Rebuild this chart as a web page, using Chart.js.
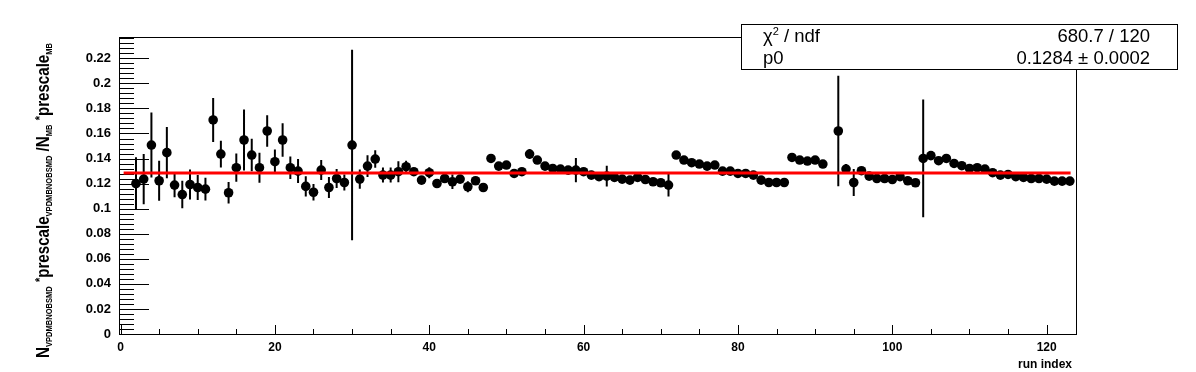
<!DOCTYPE html>
<html>
<head>
<meta charset="utf-8">
<script src="https://cdn.jsdelivr.net/npm/chart.js@4.4.1/dist/chart.umd.min.js"></script>
<style>
  html, body { margin: 0; padding: 0; background: #fff; }
  canvas { display: block; }
</style>
</head>
<body>
<canvas id="ratio-plot" width="1196" height="372"></canvas>
<script>
// run index -> ratio with its error bar (run 92 has no entry)
const runIndex = [
  2, 3, 4, 5, 6, 7, 8, 9, 10, 11, 12, 13, 14, 15, 16, 17, 18, 19, 20, 21,
  22, 23, 24, 25, 26, 27, 28, 29, 30, 31, 32, 33, 34, 35, 36, 37, 38, 39, 40, 41,
  42, 43, 44, 45, 46, 47, 48, 49, 50, 51, 52, 53, 54, 55, 56, 57, 58, 59, 60, 61,
  62, 63, 64, 65, 66, 67, 68, 69, 70, 71, 72, 73, 74, 75, 76, 77, 78, 79, 80, 81,
  82, 83, 84, 85, 86, 87, 88, 89, 90, 91, 93, 94, 95, 96, 97, 98, 99, 100, 101, 102,
  103, 104, 105, 106, 107, 108, 109, 110, 111, 112, 113, 114, 115, 116, 117, 118, 119, 120, 121, 122,
  123
];
const ratio = [
  0.1201, 0.1236, 0.1508, 0.1223, 0.1447, 0.1188, 0.1113, 0.1193, 0.1169, 0.1156,
  0.1708, 0.1436, 0.1127, 0.1327, 0.1548, 0.1428, 0.1327, 0.1620, 0.1375, 0.1548,
  0.1327, 0.1300, 0.1178, 0.1131, 0.1308, 0.1169, 0.1241, 0.1209, 0.1508, 0.1236,
  0.1340, 0.1396, 0.1268, 0.1268, 0.1295, 0.1335, 0.1295, 0.1228, 0.1287, 0.1201,
  0.1241, 0.1215, 0.1236, 0.1175, 0.1223, 0.1169, 0.1401, 0.1340, 0.1348, 0.1281,
  0.1295, 0.1436, 0.1388, 0.1340, 0.1321, 0.1316, 0.1308, 0.1308, 0.1295, 0.1268,
  0.1255, 0.1260, 0.1249, 0.1236, 0.1228, 0.1249, 0.1233, 0.1215, 0.1207, 0.1188,
  0.1428, 0.1388, 0.1367, 0.1356, 0.1340, 0.1348, 0.1300, 0.1300, 0.1281, 0.1281,
  0.1268, 0.1228, 0.1209, 0.1209, 0.1209, 0.1409, 0.1388, 0.1380, 0.1388, 0.1356,
  0.1620, 0.1316, 0.1209, 0.1303, 0.1260, 0.1241, 0.1241, 0.1233, 0.1255, 0.1223,
  0.1207, 0.1401, 0.1423, 0.1383, 0.1401, 0.1361, 0.1343, 0.1321, 0.1327, 0.1316,
  0.1287, 0.1268, 0.1273, 0.1255, 0.1249, 0.1241, 0.1241, 0.1236, 0.1220, 0.1220,
  0.1220
];
const ratioErr = [
  0.0210, 0.0200, 0.0260, 0.0160, 0.0205, 0.0097, 0.0110, 0.0120, 0.0100, 0.0090,
  0.0175, 0.0107, 0.0085, 0.0113, 0.0243, 0.0130, 0.0120, 0.0125, 0.0097, 0.0133,
  0.0090, 0.0096, 0.0080, 0.0065, 0.0080, 0.0083, 0.0076, 0.0063, 0.0760, 0.0077,
  0.0087, 0.0070, 0.0060, 0.0060, 0.0084, 0.0048, 0.0030, 0.0020, 0.0044, 0.0020,
  0.0030, 0.0057, 0.0030, 0.0044, 0.0020, 0.0020, 0.0020, 0.0030, 0.0020, 0.0020,
  0.0020, 0.0040, 0.0020, 0.0020, 0.0020, 0.0020, 0.0020, 0.0097, 0.0020, 0.0020,
  0.0020, 0.0083, 0.0020, 0.0020, 0.0020, 0.0020, 0.0020, 0.0020, 0.0020, 0.0090,
  0.0020, 0.0020, 0.0020, 0.0020, 0.0020, 0.0020, 0.0020, 0.0020, 0.0020, 0.0020,
  0.0020, 0.0020, 0.0020, 0.0020, 0.0020, 0.0020, 0.0020, 0.0020, 0.0020, 0.0020,
  0.0440, 0.0040, 0.0107, 0.0020, 0.0020, 0.0020, 0.0020, 0.0020, 0.0020, 0.0020,
  0.0020, 0.0470, 0.0020, 0.0020, 0.0020, 0.0020, 0.0020, 0.0020, 0.0020, 0.0020,
  0.0020, 0.0020, 0.0020, 0.0020, 0.0020, 0.0020, 0.0020, 0.0020, 0.0020, 0.0020,
  0.0020
];

// constant fit p0 and the range it is drawn over
const fitValue = 0.1284;
const fitRange = [0.4, 123.1];
const statsRows = [
  ['χ2 / ndf', '680.7 / 120'],
  ['p0', '0.1284 \u00b1 0.0002']
];

const FONT = '"Liberation Sans", Arial, Helvetica, sans-serif';

// ROOT style frame with inside tick marks
const framePlugin = {
  id: 'rootFrame',
  beforeDatasetsDraw(chart) {
    const { ctx, chartArea: a, scales: { x, y } } = chart;
    ctx.save();
    ctx.strokeStyle = '#000';
    ctx.lineWidth = 1;
    ctx.strokeRect(a.left + 0.5, a.top + 0.5, a.right - a.left, a.bottom - a.top);

    ctx.beginPath();
    for (let i = 0; i <= 59; i++) {
      const v = i * 0.004;
      if (v > y.max) break;
      const py = Math.round(y.getPixelForValue(v)) + 0.5;
      const len = i % 5 === 0 ? 30 : 15;
      ctx.moveTo(a.left, py);
      ctx.lineTo(a.left + len, py);
    }
    for (let v = 0; v <= 120; v += 5) {
      const px = Math.round(x.getPixelForValue(v)) + 0.5;
      const len = v % 20 === 0 ? 9 : 5;
      ctx.moveTo(px, a.bottom);
      ctx.lineTo(px, a.bottom - len);
    }
    ctx.stroke();

    // error bars
    ctx.lineWidth = 2;
    ctx.beginPath();
    runIndex.forEach((r, i) => {
      const px = x.getPixelForValue(r);
      ctx.moveTo(px, y.getPixelForValue(ratio[i] - ratioErr[i]));
      ctx.lineTo(px, y.getPixelForValue(ratio[i] + ratioErr[i]));
    });
    ctx.stroke();
    ctx.restore();
  },
  afterDraw(chart) {
    const { ctx } = chart;
    ctx.save();

    // stats box
    const bx = 741, by = 24, bw = 436, bh = 45;
    ctx.fillStyle = '#fff';
    ctx.fillRect(bx, by, bw, bh);
    ctx.strokeStyle = '#000';
    ctx.lineWidth = 1;
    ctx.strokeRect(bx + 0.5, by + 0.5, bw, bh);
    ctx.fillStyle = '#000';
    ctx.textBaseline = 'alphabetic';
    const rowY = [42, 64];
    statsRows.forEach((row, i) => {
      ctx.font = '18.5px ' + FONT;
      ctx.textAlign = 'left';
      if (row[0].startsWith('χ2')) {
        ctx.fillText('χ', 763, rowY[i]);
        const w = ctx.measureText('χ').width;
        ctx.font = '11px ' + FONT;
        ctx.fillText('2', 763 + w, rowY[i] - 7);
        const w2 = ctx.measureText('2').width;
        ctx.font = '18.5px ' + FONT;
        ctx.fillText(row[0].slice(2), 763 + w + w2, rowY[i]);
      } else {
        ctx.fillText(row[0], 763, rowY[i]);
      }
      ctx.textAlign = 'right';
      ctx.fillText(row[1], 1150, rowY[i]);
    });

    // x title
    ctx.font = 'bold 12px ' + FONT;
    ctx.textAlign = 'right';
    ctx.fillText('run index', 1072, 368);

    // y title with subscripts, squeezed to the axis height like ROOT does
    const parts = [
      ['N', 'm'], ['VPDMBNOBSMD', 's'], [' ', 'm'], ['*', 'u'], ['prescale', 'm'],
      ['VPDMBNOBSMD', 's'], [' /N', 'm'], ['MB', 's'], [' ', 'm'], ['*', 'u'],
      ['prescale', 'm'], ['MB', 's']
    ];
    const fonts = { m: 'bold 18px ' + FONT, s: 'bold 9px ' + FONT, u: 'bold 13px ' + FONT };
    const shift = { m: 0, s: 3, u: -5 };
    let total = 0;
    parts.forEach(p => { ctx.font = fonts[p[1]]; total += ctx.measureText(p[0]).width; });
    const start = 358, end = 43;
    ctx.translate(49, start);
    ctx.rotate(-Math.PI / 2);
    ctx.scale((start - end) / total, 1);
    ctx.textAlign = 'left';
    let cx = 0;
    parts.forEach(p => {
      ctx.font = fonts[p[1]];
      ctx.fillText(p[0], cx, shift[p[1]]);
      cx += ctx.measureText(p[0]).width;
    });
    ctx.restore();
  }
};

const ctx = document.getElementById('ratio-plot').getContext('2d');
const ratioChart = new Chart(ctx, {
  type: 'scatter',
  data: {
    datasets: [
      {
        label: 'fit',
        type: 'line',
        order: 0,
        data: fitRange.map(v => ({ x: v, y: fitValue })),
        borderColor: '#ff0000',
        borderWidth: 3,
        pointRadius: 0,
        fill: false
      },
      {
        label: 'ratio',
        order: 1,
        data: runIndex.map((r, i) => ({ x: r, y: ratio[i] })),
        backgroundColor: '#000',
        borderColor: '#000',
        borderWidth: 0,
        pointRadius: 4.8
      }
    ]
  },
  options: {
    responsive: false,
    animation: false,
    devicePixelRatio: 1,
    layout: { padding: { top: 37, right: 120, left: 0, bottom: 0 } },
    plugins: { legend: { display: false }, tooltip: { enabled: false } },
    scales: {
      x: {
        type: 'linear',
        min: -0.2,
        max: 123.8,
        grid: { display: false, drawTicks: false },
        border: { display: false },
        ticks: {
          stepSize: 20,
          includeBounds: false,
          padding: 6,
          color: '#000',
          font: { family: FONT, size: 12, weight: 'bold' },
          maxRotation: 0
        },
        afterFit(scale) { scale.height = 38; }
      },
      y: {
        type: 'linear',
        min: 0,
        max: 0.237,
        grid: { display: false, drawTicks: false },
        border: { display: false },
        ticks: {
          stepSize: 0.02,
          includeBounds: false,
          padding: 8,
          color: '#000',
          font: { family: FONT, size: 13, weight: 'bold' },
          callback: v => String(+v.toFixed(2))
        },
        afterFit(scale) { scale.width = 119; }
      }
    }
  },
  plugins: [framePlugin]
});
</script>
</body>
</html>
